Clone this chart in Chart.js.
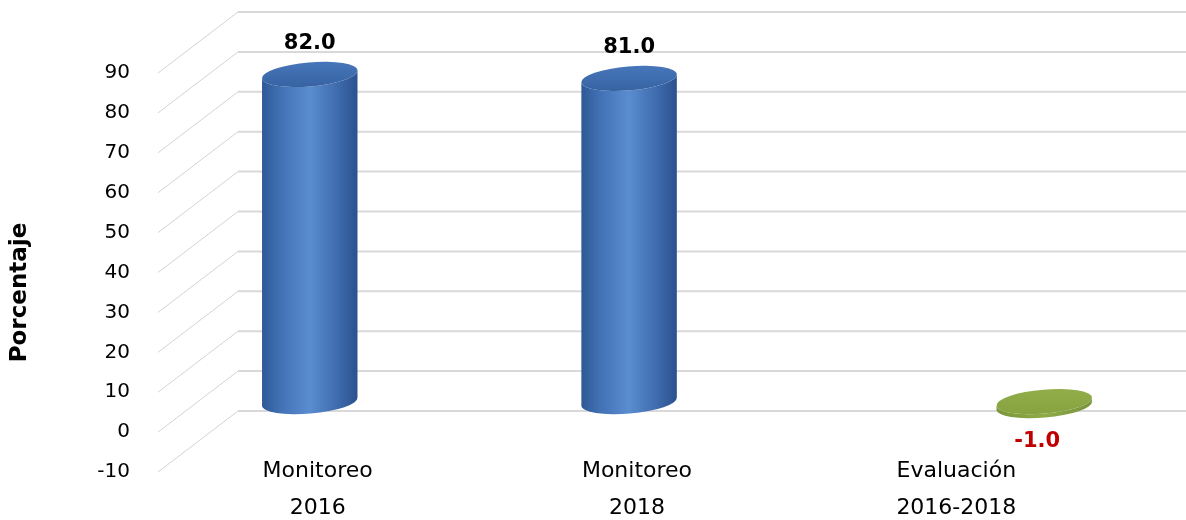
<!DOCTYPE html>
<html>
<head>
<meta charset="utf-8">
<script src="https://cdn.jsdelivr.net/npm/chart.js@4.4.1/dist/chart.umd.min.js"></script>
<style>
  html, body { margin: 0; padding: 0; background: #ffffff; }
  #wrap { width: 1186px; height: 520px; position: relative; }
</style>
</head>
<body>
<div id="wrap"><canvas id="c" width="1186" height="520"></canvas></div>
<script>
// ---- data ----
const categories = [['Monitoreo', '2016'], ['Monitoreo', '2018'], ['Evaluación', '2016-2018']];
const monitoreoValues = [82.0, 81.0, null];
const evaluacionValues = [null, null, -1.0];
const yTicks = [-10, 0, 10, 20, 30, 40, 50, 60, 70, 80, 90];
const yTitle = 'Porcentaje';

// ---- 3D look parameters ----
const DEPTH_X = 80, DEPTH_Y = 61;

const FONT = '"DejaVu Sans", "Noto Sans", sans-serif';

const grid3d = {
  id: 'grid3d',
  beforeDatasetsDraw(chart) {
    const ctx = chart.ctx;
    const y = chart.scales.y;
    const left = chart.chartArea.left;
    ctx.save();
    yTicks.forEach(v => {
      const yf = y.getPixelForValue(v);
      ctx.strokeStyle = '#d3d3d3';
      ctx.lineWidth = 1;
      ctx.beginPath();
      ctx.moveTo(left, yf);
      ctx.lineTo(left + DEPTH_X, yf - DEPTH_Y);
      ctx.stroke();
      ctx.strokeStyle = '#d9d9d9';
      ctx.lineWidth = 2;
      ctx.beginPath();
      ctx.moveTo(left + DEPTH_X, yf - DEPTH_Y);
      ctx.lineTo(chart.width, yf - DEPTH_Y);
      ctx.stroke();
    });
    ctx.restore();
  }
};

const styles = [
  { stops: [[0, '#2e5895'], [0.2, '#4272b5'], [0.5, '#5a8dd0'], [0.8, '#3d6aab'], [1, '#2b518e']], cap: '#3763a3', capEdge: '#4676b9', label: '#000000' },
  { stops: [[0, '#7a963a'], [0.5, '#8eab48'], [1, '#78943a']], cap: '#86a340', capEdge: '#90ad4a', label: '#c00000' }
];

const cylinders = {
  id: 'cylinders',
  afterDatasetsDraw(chart) {
    const ctx = chart.ctx;
    const rot = -0.085;
    chart.data.datasets.forEach((ds, di) => {
      const meta = chart.getDatasetMeta(di);
      const st = styles[di];
      meta.data.forEach((bar, i) => {
        const val = ds.data[i];
        if (val === null || val === undefined) return;
        const { x, y, base, width } = bar.getProps(['x', 'y', 'base', 'width'], true);
        const cx = x + DEPTH_X / 2;
        const yTop = Math.min(y, base) - DEPTH_Y / 2;
        const yBot = Math.max(y, base) - DEPTH_Y / 2;
        const rx = width / 2, ry = 12;
        const cosr = Math.cos(rot), sinr = Math.sin(rot);
        ctx.save();
        const g = ctx.createLinearGradient(cx - rx, 0, cx + rx, 0);
        st.stops.forEach(s => g.addColorStop(s[0], s[1]));
        // body
        ctx.beginPath();
        ctx.moveTo(cx - rx * cosr, yTop - rx * sinr);
        ctx.lineTo(cx - rx * cosr, yBot - rx * sinr);
        ctx.ellipse(cx, yBot, rx, ry, rot, Math.PI, 0, true);
        ctx.lineTo(cx + rx * cosr, yTop + rx * sinr);
        ctx.ellipse(cx, yTop, rx, ry, rot, 0, Math.PI, false);
        ctx.closePath();
        ctx.fillStyle = g;
        ctx.fill();
        // cap
        ctx.beginPath();
        ctx.ellipse(cx, yTop, rx, ry, rot, 0, Math.PI * 2);
        const cg = ctx.createLinearGradient(cx, yTop - ry, cx, yTop + ry);
        cg.addColorStop(0, st.capEdge);
        cg.addColorStop(1, st.cap);
        ctx.fillStyle = cg;
        ctx.fill();
        // label
        ctx.font = 'bold 21px ' + FONT;
        ctx.fillStyle = st.label;
        ctx.textAlign = 'center';
        ctx.textBaseline = 'middle';
        const txt = val.toFixed(1);
        if (val >= 0) {
          ctx.fillText(txt, cx, yTop - 31);
        } else {
          ctx.fillText(txt, cx - 7, yBot + 36);
        }
        ctx.restore();
      });
    });
  }
};

new Chart(document.getElementById('c'), {
  type: 'bar',
  data: {
    labels: categories,
    datasets: [
      { label: 'Monitoreo', data: monitoreoValues, backgroundColor: 'rgba(0,0,0,0)', borderWidth: 0 },
      { label: 'Evaluación', data: evaluacionValues, backgroundColor: 'rgba(0,0,0,0)', borderWidth: 0 }
    ]
  },
  options: {
    responsive: false,
    animation: false,
    events: [],
    categoryPercentage: 0.6,
    barPercentage: 1.0,
    layout: { padding: { top: 73, right: 70, left: 0, bottom: 0 } },
    plugins: { legend: { display: false }, tooltip: { enabled: false } },
    scales: {
      x: {
        grid: { display: false, drawTicks: false },
        border: { display: false },
        ticks: { color: '#000', font: { family: FONT, size: 22, lineHeight: '37px' }, padding: -18, mirror: true, maxRotation: 0, autoSkip: false },
        afterFit(s) { s.height = 48; }
      },
      y: {
        min: -10, max: 90,
        grid: { display: false, drawTicks: false },
        border: { display: false },
        ticks: { stepSize: 10, color: '#000', font: { family: FONT, size: 20 }, padding: 28 },
        title: { display: true, text: yTitle + '     ', color: '#000', font: { family: FONT, size: 23, weight: 'bold' }, padding: { top: 6, bottom: 0 } },
        afterFit(s) { s.width = 158; }
      }
    }
  },
  plugins: [grid3d, cylinders]
});
</script>
</body>
</html>
